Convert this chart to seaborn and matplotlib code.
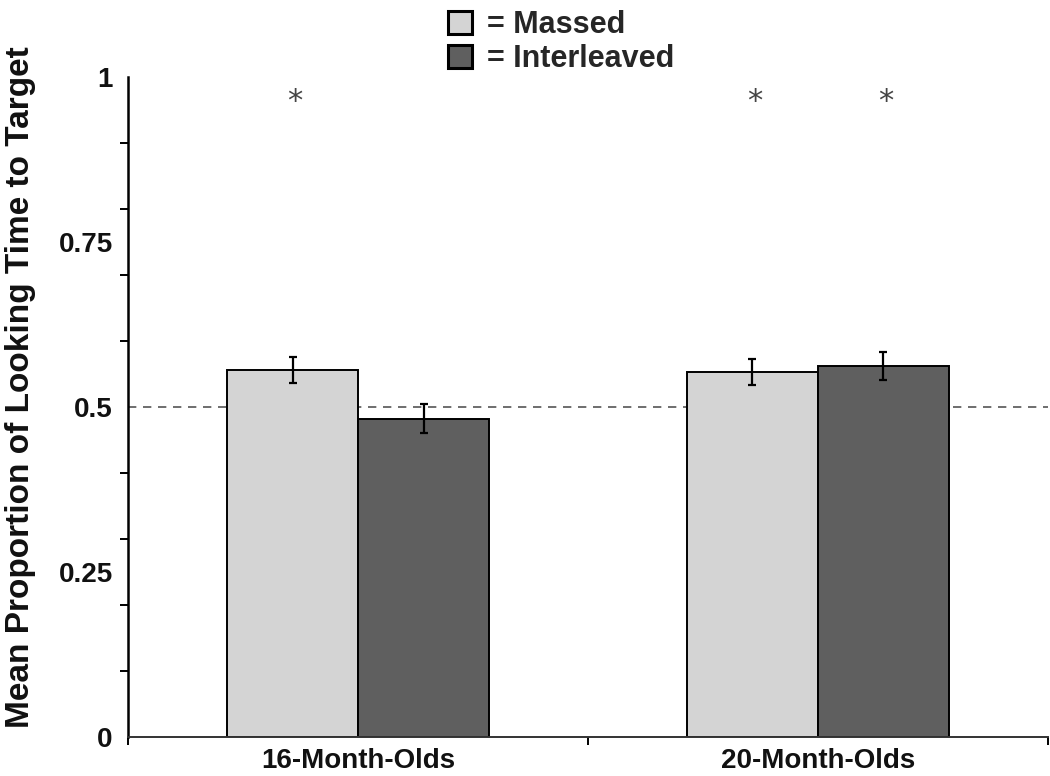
import numpy as np
import pandas as pd
import matplotlib
matplotlib.use('Agg')
import matplotlib.pyplot as plt
import seaborn as sns
from matplotlib.patches import Patch
from matplotlib.ticker import MultipleLocator

# data
groups = ['16-Month-Olds', '20-Month-Olds']
conditions = ['Massed', 'Interleaved']
massed = [0.556, 0.553]
interleaved = [0.482, 0.562]
massed_se = [0.019, 0.020]
interleaved_se = [0.022, 0.021]
massed_sig = [True, True]
interleaved_sig = [False, True]
colors = ['#d4d4d4', '#5f5f5f']

df = pd.DataFrame({
    'group': groups * 2,
    'condition': ['Massed'] * 2 + ['Interleaved'] * 2,
    'value': massed + interleaved,
    'se': massed_se + interleaved_se,
    'sig': massed_sig + interleaved_sig,
})

sns.set_style('white')
plt.rcParams['font.family'] = ['Liberation Sans', 'DejaVu Sans']

fig = plt.figure(figsize=(10.5, 7.76), dpi=100)
ax = fig.add_axes([0.122, 0.050, 0.876, 0.851])

# reference line at chance
ax.axhline(0.5, color='#555555', lw=1.2, ls=(0, (5, 4)), zorder=0)

sns.barplot(data=df, x='group', y='value', hue='condition', order=groups,
            hue_order=conditions, palette=colors, width=0.57, errorbar=None,
            edgecolor='black', linewidth=1.4, legend=False, ax=ax, zorder=2)

# error bars and asterisks at bar centres
for i, cond in enumerate(conditions):
    sub = df[df.condition == cond].set_index('group').loc[groups]
    bars = ax.containers[i]
    xs = [b.get_x() + b.get_width() / 2 for b in bars]
    ax.errorbar(xs, sub['value'], yerr=sub['se'], fmt='none', ecolor='black',
                elinewidth=1.6, capsize=3, capthick=1.6, zorder=3)
    for x, s in zip(xs, sub['sig']):
        if s:
            ax.text(x + 0.005, 0.962, '*', ha='center', va='center', fontsize=22,
                    color='#444444', family='DejaVu Sans')

ax.set_xlim(-0.5, 1.5)
ax.set_ylim(0, 1)
ax.set_yticks([0, 0.25, 0.5, 0.75, 1])
ax.set_yticklabels(['0', '0.25', '0.5', '0.75', '1'])
ax.yaxis.set_minor_locator(MultipleLocator(0.1))
ax.set_xticks([0, 1])
ax.set_xticks([-0.5, 0.5, 1.5], minor=True)
ax.tick_params(axis='both', which='major', length=0, labelsize=20)
ax.tick_params(axis='y', which='major', pad=11)
ax.tick_params(axis='x', which='major', pad=8)
ax.tick_params(axis='both', which='minor', length=6, width=1.4, direction='out',
               color='black', left=True, bottom=True)
for lab in ax.get_xticklabels() + ax.get_yticklabels():
    lab.set_fontweight('bold')
    lab.set_color('#111111')

ax.set_xlabel('')
ax.set_ylabel('Mean Proportion of Looking Time to Target', fontsize=24,
              fontweight='bold', color='#111111')
ax.yaxis.set_label_coords(-0.100, 0.53)

sns.despine(ax=ax)
ax.spines['left'].set_linewidth(1.8)
ax.spines['left'].set_color('black')
ax.spines['bottom'].set_linewidth(1.4)
ax.spines['bottom'].set_color('#333333')

handles = [Patch(facecolor=c, edgecolor='black', linewidth=2.2) for c in colors]
fig.legend(handles, ['= ' + c for c in conditions], loc='upper left',
           bbox_to_anchor=(0.400, 1.022), frameon=False, handlelength=0.8,
           handleheight=0.8, handletextpad=0.5, labelspacing=0.12,
           prop={'size': 22, 'weight': 'bold'})

fig.savefig('out.png', dpi=100)
